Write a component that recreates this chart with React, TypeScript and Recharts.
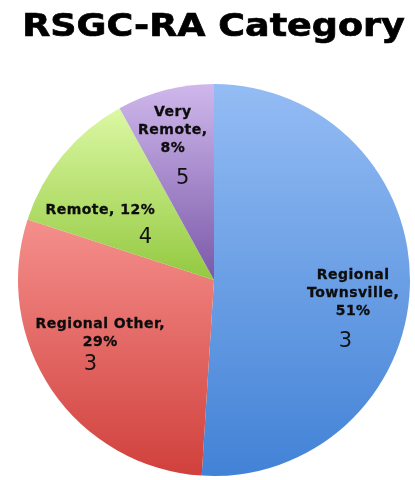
import { PieChart, Pie, Cell } from "recharts";

const categories = ["Regional Townsville", "Regional Other", "Remote", "Very Remote"];
const shares = [51, 29, 12, 8];
const counts = [3, 3, 4, 5];
const labelLines = [
  ["Regional", "Townsville,", "51%"],
  ["Regional Other,", "29%"],
  ["Remote, 12%"],
  ["Very", "Remote,", "8%"],
];

const gradients = [
  ["#94bcf4", "#4282d6"],
  ["#f58f8c", "#d0403c"],
  ["#dcf8a4", "#93c940"],
  ["#cfb8ec", "#7a58a8"],
];

// label placement, as fractions of the radius from the pie centre
const textSpots = [
  [0.71, -0.03],
  [-0.58, 0.22],
  [-0.58, -0.36],
  [-0.21, -0.86],
];
const countSpots = [
  [0.67, 0.3],
  [-0.63, 0.42],
  [-0.35, -0.23],
  [-0.16, -0.53],
];

const data = categories.map((name, i) => ({ name, value: shares[i], count: counts[i] }));

const FONT = "'DejaVu Sans', Verdana, sans-serif";

function SliceLabel(props: any) {
  const { cx, cy, outerRadius, index } = props;
  const [tx, ty] = textSpots[index];
  const [nx, ny] = countSpots[index];
  const x = cx + tx * outerRadius;
  const y = cy + ty * outerRadius;
  const lines = labelLines[index];
  return (
    <g>
      {lines.map((ln, k) => (
        <text
          key={k}
          x={x}
          y={y + k * 18 + 5}
          textAnchor="middle"
          fontFamily={FONT}
          fontWeight="bold"
          fontSize={14}
          letterSpacing={0.5}
          fill="#0d0d0d"
          stroke="#0d0d0d"
          strokeWidth={0.3}
        >
          {ln}
        </text>
      ))}
      <text
        x={cx + nx * outerRadius}
        y={cy + ny * outerRadius + 8}
        textAnchor="middle"
        fontFamily={FONT}
        fontSize={21}
        fill="#111"
      >
        {counts[index]}
      </text>
    </g>
  );
}

export default function App() {
  return (
    <div style={{ position: "fixed", left: 0, top: 0, width: 415, height: 480, background: "#fff" }}>
      <style>{`.recharts-pie-sectors { filter: drop-shadow(1px 2px 2px rgba(0,0,0,0.22)); }`}</style>
      <div
        style={{
          position: "absolute",
          left: 0,
          top: 6,
          width: 427,
          textAlign: "center",
          fontFamily: FONT,
          fontWeight: "bold",
          fontSize: 32,
          color: "#000",
          transform: "scaleX(1.14)",
          transformOrigin: "center",
          WebkitTextStroke: "0.7px #000",
        }}
      >
        RSGC-RA Category
      </div>
      <PieChart width={415} height={480} margin={{ top: 0, right: 0, bottom: 0, left: 0 }}>
        <defs>
          {gradients.map((g, i) => (
            <linearGradient key={i} id={`slice-${i}`} x1="0" y1="0" x2="0" y2="1">
              <stop offset="0%" stopColor={g[0]} />
              <stop offset="100%" stopColor={g[1]} />
            </linearGradient>
          ))}
        </defs>
        <Pie
          data={data}
          dataKey="value"
          cx={214}
          cy={280}
          outerRadius={196}
          startAngle={90}
          endAngle={-270}
          stroke="none"
          labelLine={false}
          label={SliceLabel}
          isAnimationActive={false}
        >
          {data.map((d, i) => (
            <Cell key={d.name} fill={`url(#slice-${i})`} />
          ))}
        </Pie>
      </PieChart>
    </div>
  );
}
